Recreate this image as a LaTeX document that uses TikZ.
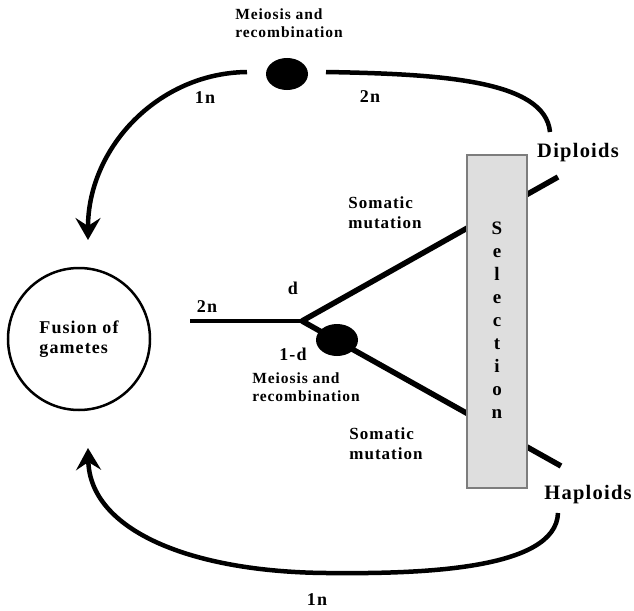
\documentclass[tikz,border=0pt]{standalone}
\usepackage{fontspec}
\setmainfont{Liberation Serif}[LetterSpace=6]
\usetikzlibrary{arrows.meta,shapes.geometric}
\definecolor{boxgray}{RGB}{222,222,222}
\definecolor{edgegray}{RGB}{125,125,125}
\begin{document}
\begin{tikzpicture}[x=1pt,y=-1pt,
    lbl/.style={font=\bfseries\fontsize{18}{20}\selectfont},
    biglbl/.style={font=\bfseries\fontsize{20.5}{22}\selectfont},
    midtxt/.style={font=\bfseries\fontsize{17}{20}\selectfont, align=left},
    smalltxt/.style={font=\bfseries\fontsize{15.5}{18.5}\selectfont, align=left},
    seltxt/.style={font=\bfseries\fontsize{19}{20}\selectfont},
    blackdot/.style={ellipse, fill=black, inner sep=0pt, minimum width=42pt, minimum height=32pt},
    branch/.style={line width=5.5pt},
    cycle/.style={line width=4.5pt},
    cyclearrow/.style={line width=4.5pt, -{Stealth[length=22pt,width=25pt,inset=8pt]}}]
  \useasboundingbox (0,0) rectangle (634,610);

  % Points of the branching path
  \coordinate (stem) at (190,321);
  \coordinate (fork) at (302,321);
  \coordinate (dipEnd) at (558,177);
  \coordinate (hapEnd) at (561,466);

  % Draw the stem and the two branches
  \draw[line width=4.5pt] (stem) -- (fork);
  \draw[branch] (fork) -- (dipEnd);
  \draw[branch] (fork) -- (hapEnd);

  % Selection box over the branches
  \node[draw=edgegray, fill=boxgray, line width=1.2pt, minimum width=60pt,
        minimum height=333pt, inner sep=0pt] (sel) at (497,321.5) {};
  \foreach \ch [count=\k] in {S,e,l,e,c,t,i,o,n} {
      \node[seltxt, anchor=base] (sel\k) at (497, 211+23.1*\k) {\ch};
  }

  % Meiosis dots
  \node[blackdot] (dotTop) at (287,74) {};
  \node[blackdot] (dotLow) at (337,340) {};

  % Fusion of gametes
  \node[circle, draw, line width=2.5pt, minimum size=142pt, lbl, align=left]
      (fusion) at (79,339) {Fusion of\\gametes};

  % Upper cycle: diploids back to fusion
  \coordinate (tl) at (247,72);
  \coordinate (tlEnd) at (88,240);
  \coordinate (tr) at (326,72);
  \coordinate (trEnd) at (550,132);
  \draw[cyclearrow] (tl) .. controls (158,73) and (88,148) .. (tlEnd);
  \draw[cycle] (tr) .. controls (440,74) and (545,80) .. (trEnd);

  % Lower cycle: haploids back to fusion
  \coordinate (br) at (558,513);
  \coordinate (bmid) at (327,573);
  \coordinate (blEnd) at (88,448);
  \draw[cyclearrow] (br) .. controls (556,570) and (420,574) .. (bmid)
      .. controls (190,572) and (90,530) .. (blEnd);

  % Labels
  \node[smalltxt] (meioTop) at (289,23) {Meiosis and\\recombination};
  \node[lbl] (n1top) at (205,98) {1n};
  \node[lbl] (n2top) at (370,97) {2n};
  \node[biglbl] (dip) at (578,153) {Diploids};
  \node[biglbl] (hap) at (588,495) {Haploids};
  \node[midtxt] (somUp) at (385,213) {Somatic\\mutation};
  \node[midtxt] (somLo) at (386,444) {Somatic\\mutation};
  \node[lbl] (n2mid) at (207,307) {2n};
  \node[lbl] (dlbl) at (293,288) {d};
  \node[lbl] (onemd) at (293,354) {1-d};
  \node[smalltxt] (meioLo) at (306,387) {Meiosis and\\recombination};
  \node[lbl] (n1bot) at (317,600) {1n};
\end{tikzpicture}
\end{document}
